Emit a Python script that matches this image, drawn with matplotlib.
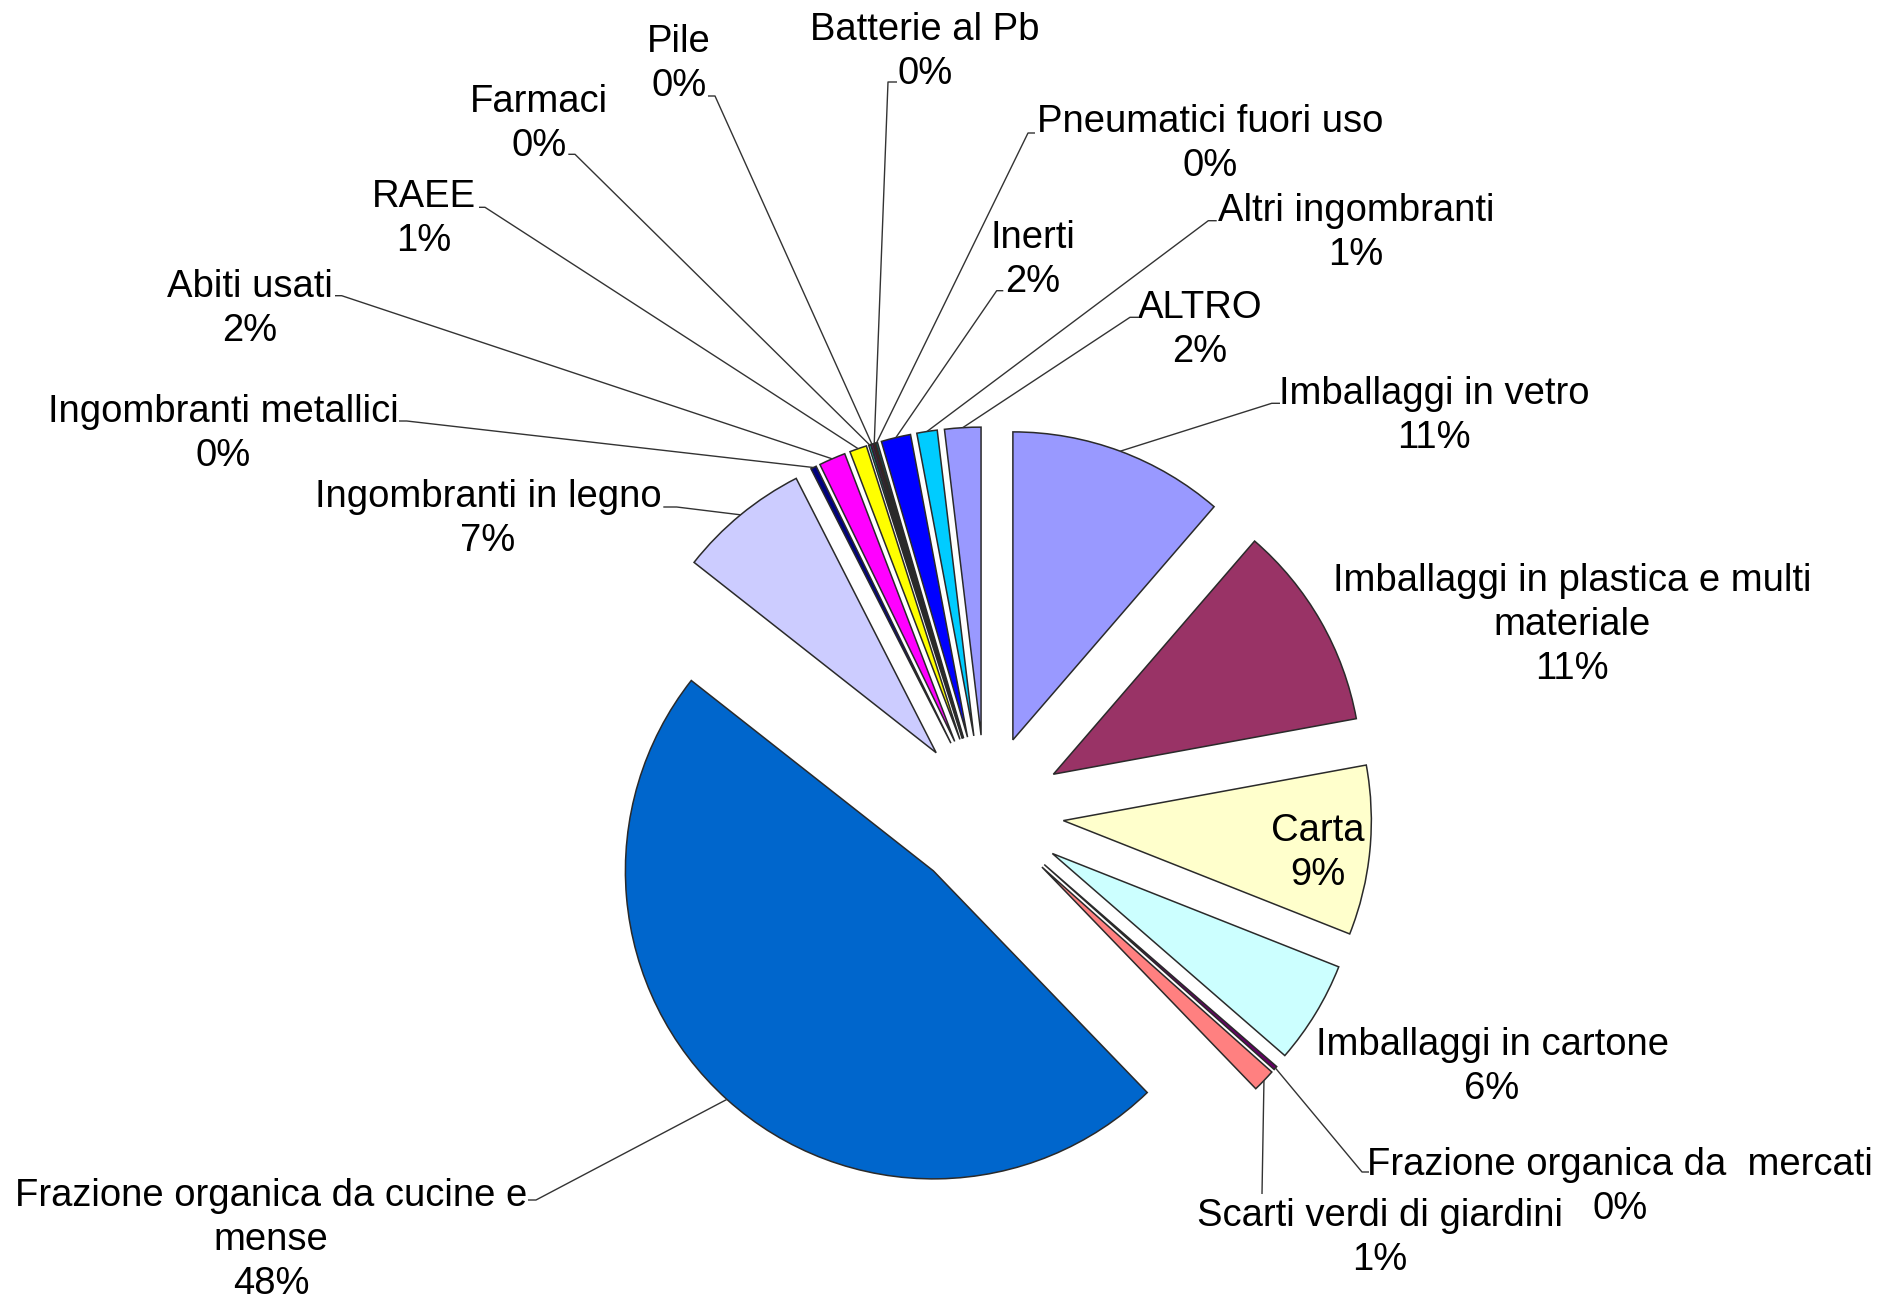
import math
import matplotlib
matplotlib.use("Agg")
import matplotlib.pyplot as plt

# ---------------- data ----------------
categories = [
    "Imballaggi in vetro",
    "Imballaggi in plastica e multi\nmateriale",
    "Carta",
    "Imballaggi in cartone",
    "Frazione organica da  mercati",
    "Scarti verdi di giardini",
    "Frazione organica da cucine e\nmense",
    "Ingombranti in legno",
    "Ingombranti metallici",
    "Abiti usati",
    "RAEE",
    "Farmaci",
    "Pile",
    "Batterie al Pb",
    "Pneumatici fuori uso",
    "Inerti",
    "Altri ingombranti",
    "ALTRO",
]
values = [11.35, 10.8, 8.9, 5.4, 0.2, 1.2, 47.9, 6.9, 0.3, 1.4, 0.9,
          0.1, 0.1, 0.1, 0.1, 1.55, 1.07, 1.9]
pct_labels = ["11%", "11%", "9%", "6%", "0%", "1%", "48%", "7%", "0%", "2%",
              "1%", "0%", "0%", "0%", "0%", "2%", "1%", "2%"]
colors = ["#9999FF", "#993366", "#FFFFCC", "#CCFFFF", "#660066", "#FF8080",
          "#0066CC", "#CCCCFF", "#000080", "#FF00FF", "#FFFF00", "#00FFFF",
          "#800080", "#800000", "#008080", "#0000FF", "#00CCFF", "#9999FF"]

# ---------------- layout (pixel coords, y from top) ----------------
W, H = 1881, 1301
center_px = (985.7, 813.0)
radius_px = 308.0
explode_px = 78.0
line_pitch = 43.6
label_dy = 3.0

label_pos = [
    (1434, 413), (1572, 622), (1318, 850), (1492, 1064), (1620, 1184),
    (1380, 1235), (271, 1237), (488, 516), (223, 431), (250, 306),
    (424, 216), (539, 121), (679, 61), (925, 49), (1210, 141),
    (1033, 257), (1356, 230), (1200, 327),
]
# leader: (attach point, tick end) or None
leaders = [
    ((1271.7, 403.3), (1280, 403.3)),
    None,
    None,
    None,
    ((1362, 1172), (1369, 1172)),
    ((1262, 1194), (1262, 1194)),
    ((536, 1200), (528, 1200)),
    ((676.7, 507), (663.3, 507)),
    ((406.7, 421), (399, 421)),
    ((341.7, 295.7), (335, 295.7)),
    ((485, 207.3), (479, 207.3)),
    ((575, 154.3), (568.3, 154.3)),
    ((715, 96), (708, 96)),
    ((888, 82), (897, 82)),
    ((1028, 133), (1035, 133)),
    ((996.7, 290.7), (1003.3, 290.7)),
    ((1208.3, 220.7), (1216.7, 220.7)),
    ((1130, 317.3), (1138.3, 317.3)),
]

# ---------------- font ----------------
plt.rcParams["font.family"] = ["Liberation Sans", "DejaVu Sans"]
FS = 27.5

fig = plt.figure(figsize=(W / 100, H / 100), dpi=100)
ax = fig.add_axes([0, 0, 1, 1])


def Y(y):
    return H - y


wedges, _ = ax.pie(
    values,
    colors=colors,
    startangle=90,
    counterclock=False,
    radius=radius_px,
    center=(center_px[0], Y(center_px[1])),
    explode=[explode_px] * len(values),   # absolute offset in data units
    wedgeprops=dict(edgecolor="#2a2a2a", linewidth=1.1),
)
ax.set_xlim(0, W)
ax.set_ylim(0, H)
ax.set_aspect("equal")
ax.axis("off")

for i, w in enumerate(wedges):
    lines = categories[i].split("\n") + [pct_labels[i]]
    x, y = label_pos[i]
    y = y + label_dy
    n = len(lines)
    for k, ln in enumerate(lines):
        yy = y + (k - (n - 1) / 2) * line_pitch
        ax.text(x, Y(yy), ln, ha="center", va="center",
                fontsize=FS, color="black", zorder=5)
    if leaders[i] is not None:
        mid = math.radians((w.theta1 + w.theta2) / 2)
        cx, cy = w.center
        ex = cx + w.r * math.cos(mid)
        ey = cy + w.r * math.sin(mid)
        (ax1, ay1), (tx, ty) = leaders[i]
        ax.plot([ex, ax1, tx], [ey, Y(ay1), Y(ty)], color="#333333",
                linewidth=1.0, zorder=4, solid_capstyle="butt")

fig.savefig("out.png", dpi=100, facecolor="white")
